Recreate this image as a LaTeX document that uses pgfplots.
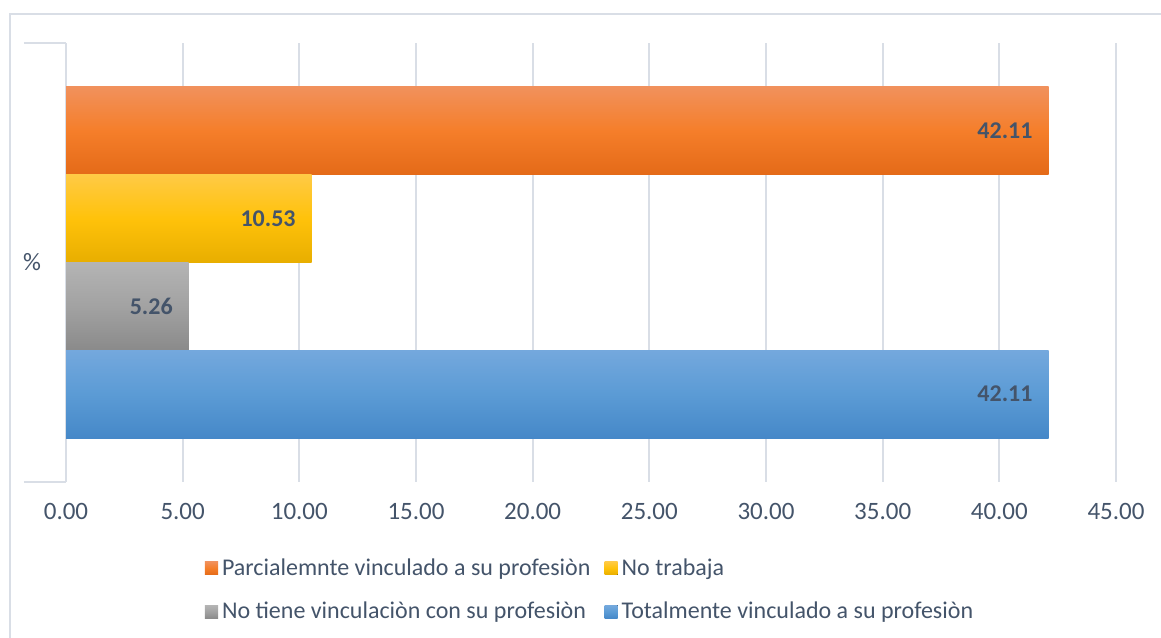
\documentclass[border=0pt]{standalone}
\usepackage{pgfplots}
\pgfplotsset{compat=1.18}
\usepackage{fontspec}
\setmainfont{Carlito}
\definecolor{txt}{HTML}{44546A}
\definecolor{gridc}{HTML}{D9DEE6}
\definecolor{oT}{HTML}{F1915C}
\definecolor{oM}{HTML}{F57E2A}
\definecolor{oB}{HTML}{E46A18}
\definecolor{yT}{HTML}{FFCA45}
\definecolor{yM}{HTML}{FFC20A}
\definecolor{yB}{HTML}{E8AE00}
\definecolor{gT}{HTML}{B4B4B4}
\definecolor{gM}{HTML}{A2A2A2}
\definecolor{gB}{HTML}{8A8A8A}
\definecolor{bT}{HTML}{74A8DD}
\definecolor{bM}{HTML}{5B9BD5}
\definecolor{bB}{HTML}{4588C8}
\begin{document}
\begin{tikzpicture}[x=1pt,y=1pt,font=\fontsize{12}{14}\selectfont]
\useasboundingbox (0,0) rectangle (580.5,318.5);
\draw[gridc, line width=1pt] (5,-20) rectangle (600,311.5);
\begin{axis}[at={(33pt,77.5pt)}, anchor=south west, scale only axis,
  width=525pt, height=219.5pt,
  xmin=0, xmax=45, ymin=0, ymax=1,
  axis lines*=left,
  x axis line style={draw=none},
  y axis line style={draw=gridc, line width=1pt},
  xtick={0,5,...,45},
  xticklabels={0.00,5.00,10.00,15.00,20.00,25.00,30.00,35.00,40.00,45.00},
  xmajorgrids, major grid style={draw=gridc, line width=1pt},
  major tick length=0pt,
  ytick={0.5}, yticklabels={\%},
  extra y ticks={0,1}, extra y tick labels={,},
  extra y tick style={major tick length=21pt, tick align=outside,
     tick style={draw=gridc, line width=1pt}},
  tick label style={text=txt, font=\fontsize{12.5}{14}\selectfont},
  xticklabel style={yshift=-7pt},
  yticklabel style={xshift=-9pt},
  point meta=explicit symbolic,
  nodes near coords,
  nodes near coords style={anchor=east, xshift=-4.5pt, font=\fontsize{12}{14}\selectfont\bfseries, text=txt},
  legend columns=2,
  legend cell align=left,
  legend style={draw=none, fill=none, at={(0.5,0)}, anchor=north, yshift=-34pt,
     text=txt, row sep=8pt,
     /tikz/every even column/.append style={column sep=5pt}},
  legend image code/.code={\fill[#1,draw=none] (0pt,-3.3pt) rectangle (6.6pt,3.3pt);},
]
\addplot[xbar, bar width=0.2, bar shift=0pt, draw=none, top color=oT, bottom color=oB, middle color=oM]
  coordinates {(42.11,0.8) [42.11]};
\addlegendentry{Parcialemnte vinculado a su profesiòn}
\addplot[xbar, bar width=0.2, bar shift=0pt, draw=none, top color=yT, bottom color=yB, middle color=yM]
  coordinates {(10.53,0.6) [10.53]};
\addlegendentry{No trabaja}
\addplot[xbar, bar width=0.2, bar shift=0pt, draw=none, top color=gT, bottom color=gB, middle color=gM]
  coordinates {(5.26,0.4) [5.26]};
\addlegendentry{No tiene vinculaciòn con su profesiòn}
\addplot[xbar, bar width=0.2, bar shift=0pt, draw=none, top color=bT, bottom color=bB, middle color=bM]
  coordinates {(42.11,0.2) [42.11]};
\addlegendentry{Totalmente vinculado a su profesiòn}
\end{axis}
\end{tikzpicture}
\end{document}
